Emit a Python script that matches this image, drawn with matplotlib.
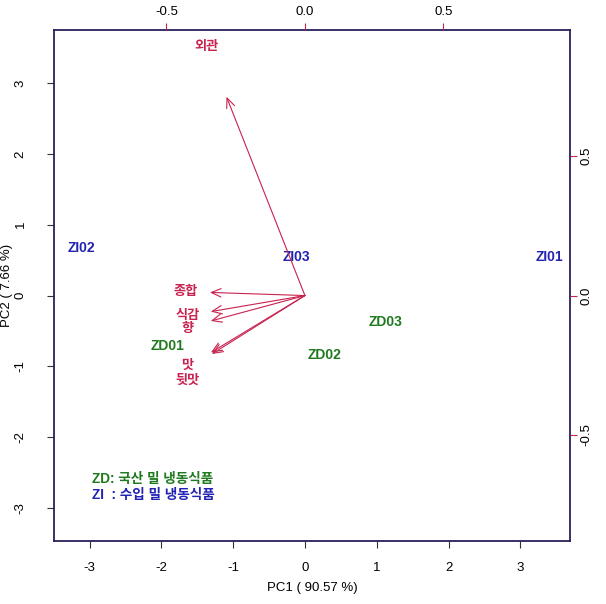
import matplotlib.pyplot as plt
import numpy as np

plt.rcParams['font.family'] = ['Liberation Sans', 'Noto Sans CJK KR', 'DejaVu Sans']
plt.rcParams['axes.unicode_minus'] = False

# sample scores (PC1, PC2)
samples = ['ZI02', 'ZI03', 'ZI01', 'ZD01', 'ZD02', 'ZD03']
pc1 = [-3.11, -0.12, 3.40, -1.91, 0.27, 1.12]
pc2 = [0.67, 0.54, 0.54, -0.71, -0.84, -0.38]
sample_colors = ['#2222b4', '#2222b4', '#2222b4', '#1f7a1f', '#1f7a1f', '#1f7a1f']

# variable loadings (arrows drawn at 0.8 of these)
variables = ['외관', '종합', '식감', '향', '맛', '뒷맛']
load1 = [-0.354, -0.429, -0.425, -0.425, -0.424, -0.420]
load2 = [0.891, 0.014, -0.072, -0.114, -0.255, -0.262]
label1 = [-0.354, -0.429, -0.425, -0.425, -0.424, -0.424]
label2 = [0.891, 0.014, -0.072, -0.118, -0.252, -0.307]

red = '#c8224f'
frame = '#2a1f5a'

fig = plt.figure(figsize=(6.06, 6.04), dpi=100)
ax = fig.add_axes([0.0891, 0.1043, 0.8515, 0.846])
ax.set_xlim(-3.496, 3.69)
ax.set_ylim(-3.467, 3.75)

for s, x, y, c in zip(samples, pc1, pc2, sample_colors):
    ax.text(x, y, s, color=c, fontsize=10, fontweight='bold', ha='center', va='center')

ax.set_xticks([-3, -2, -1, 0, 1, 2, 3])
ax.set_yticks([-3, -2, -1, 0, 1, 2, 3])
ax.tick_params(direction='out', length=5, width=0.8, color='#333333', labelsize=9.5)
ax.tick_params(axis='x', pad=10)
ax.tick_params(axis='y', pad=19)
plt.setp(ax.get_yticklabels(), rotation=90, va='center', ha='center')
ax.set_xlabel('PC1 ( 90.57 %)', fontsize=9.5, labelpad=6)
ax.set_ylabel('PC2 ( 7.66 %)', fontsize=9.5, labelpad=1)
for sp in ax.spines.values():
    sp.set_color(frame)
    sp.set_linewidth(1.3)

# legend notes
ax.text(-2.97, -2.59, 'ZD: 국산 밀 냉동식품', color='#1f7a1f', fontsize=9.8, fontweight='bold', va='center')
ax.text(-2.97, -2.82, 'ZI  : 수입 밀 냉동식품', color='#2222b4', fontsize=9.8, fontweight='bold', va='center')

# loading axes
ax2 = fig.add_axes(ax.get_position(), frameon=False)
ax2.set_xlim(-0.906, 0.957)
ax2.set_ylim(-0.880, 0.952)
ax2.xaxis.tick_top()
ax2.yaxis.tick_right()
ax2.set_xticks([-0.5, 0.0, 0.5])
ax2.set_yticks([-0.5, 0.0, 0.5])
ax2.set_xticklabels(['-0.5', '0.0', '0.5'])
ax2.set_yticklabels(['-0.5', '0.0', '0.5'])
ax2.tick_params(direction='out', length=5, width=0.8, color=red, labelsize=9.5)
ax2.tick_params(axis='x', pad=4)
ax2.tick_params(axis='y', pad=7)
plt.setp(ax2.get_yticklabels(), rotation=90, va='center', ha='center')

for v, x, y, lx, ly in zip(variables, load1, load2, label1, label2):
    ax2.annotate('', xy=(0.8 * x, 0.8 * y), xytext=(0, 0),
                 arrowprops=dict(arrowstyle='->,head_length=0.7,head_width=0.3',
                                 color=red, lw=0.8, shrinkA=0, shrinkB=0))
    ax2.text(lx, ly, v, color=red, fontsize=9.5, fontweight='bold', ha='center', va='center')

plt.savefig('out.png', dpi=100)
